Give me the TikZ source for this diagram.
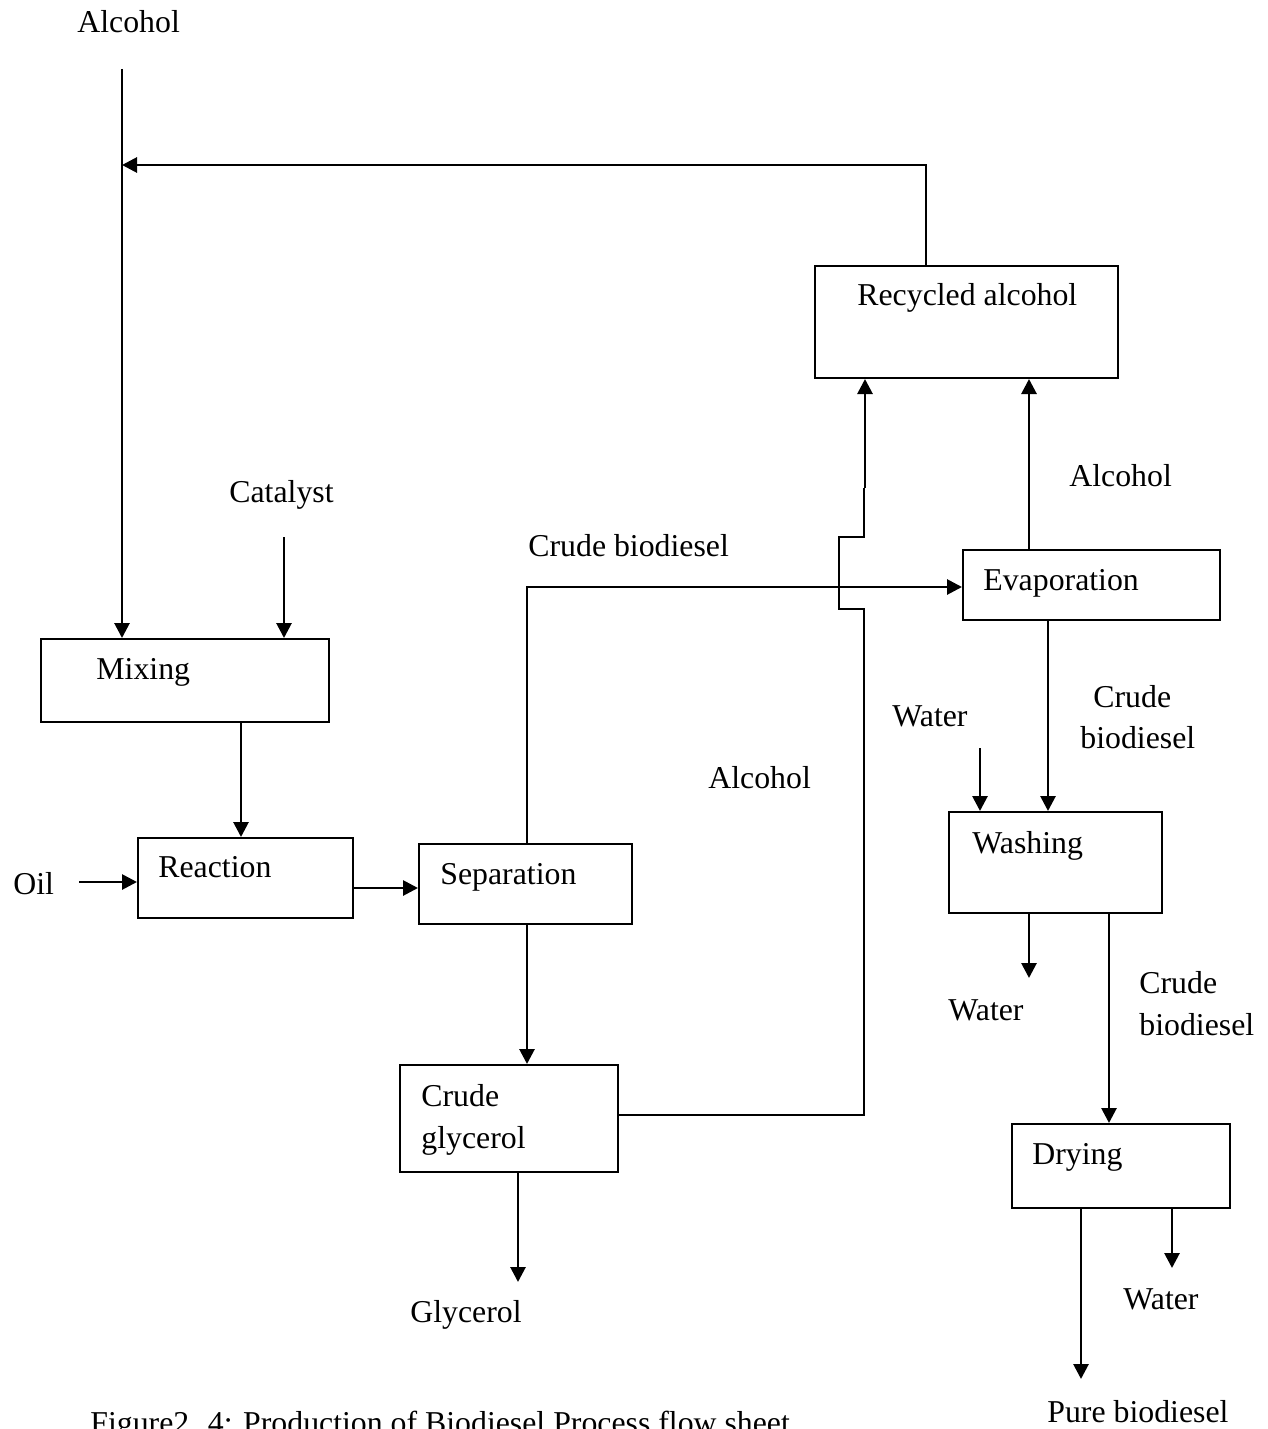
\documentclass[tikz,border=0pt]{standalone}
\usepackage{fontspec}
\setmainfont{Liberation Serif}
\usetikzlibrary{arrows.meta,positioning}

\tikzset{
  unit/.style={draw, line width=1pt, inner sep=0pt},
  tag/.style={anchor=base west, inner sep=0pt, align=left,
    font=\fontsize{15.9}{21}\selectfont},
  flow/.style={line width=1.4pt},
  pipe/.style={line width=1pt},
  >={Triangle[length=7.5pt,width=7.5pt]}
}

\begin{document}
\begin{tikzpicture}[x=0.5pt,y=-0.5pt]
  \useasboundingbox (0,0) rectangle (1268,1429);
  \clip (0,0) rectangle (1268,1429);

  % process units
  \node[unit, minimum width=144pt,   minimum height=41.5pt] (mixing)      at (185,680.5)   {};
  \node[unit, minimum width=107.5pt, minimum height=40pt]   (reaction)    at (245.5,878)   {};
  \node[unit, minimum width=106.5pt, minimum height=40pt]   (separation)  at (525.5,884)   {};
  \node[unit, minimum width=109pt,   minimum height=53.5pt] (glycerol)    at (509,1118.5)  {};
  \node[unit, minimum width=151.5pt, minimum height=56pt]   (recycled)    at (966.5,322)   {};
  \node[unit, minimum width=128.5pt, minimum height=35pt]   (evaporation) at (1091.5,585)  {};
  \node[unit, minimum width=106.5pt, minimum height=50.5pt] (washing)     at (1055.5,862.5) {};
  \node[unit, minimum width=109pt,   minimum height=42pt]   (drying)      at (1121,1166)   {};

  % texts
  \node[tag] (mixing text)      at (96,679)    {Mixing};
  \node[tag] (reaction text)    at (158,877)   {Reaction};
  \node[tag] (separation text)  at (440,884)   {Separation};
  \node[tag] (glycerol text)    at (421,1148)  {Crude\\glycerol};
  \node[tag] (recycled text)    at (857,305)   {Recycled alcohol};
  \node[tag] (evaporation text) at (983,590)   {Evaporation};
  \node[tag] (washing text)     at (972,853)   {Washing};
  \node[tag] (drying text)      at (1032,1164) {Drying};

  \node[tag] (alcohol feed)     at (77,33)     {Alcohol};
  \node[tag] (catalyst)         at (229,502)   {Catalyst};
  \node[tag] (oil)              at (13,894)    {Oil};
  \node[tag] (crude top)        at (528,556)   {Crude biodiesel};
  \node[tag] (alcohol back)     at (708,788)   {Alcohol};
  \node[tag] (alcohol up)       at (1069,486)  {Alcohol};
  \node[tag] (water in)         at (892,726)   {Water};
  \node[tag] (crude washing)    at (1093,707)  {Crude};
  \node[tag] (crude washing b)  at (1080,748)  {biodiesel};
  \node[tag] (water washing)    at (948,1020)  {Water};
  \node[tag] (crude drying)     at (1139,1035) {Crude\\biodiesel};
  \node[tag] (glycerol out)     at (410,1322)  {Glycerol};
  \node[tag] (water drying)     at (1123,1309) {Water};
  \node[tag] (pure)             at (1047,1422) {Pure biodiesel};
  \node[tag] (caption)          at (90,1433)   {Figure2. 4: Production of Biodiesel Process flow sheet};

  % free ends
  \coordinate (alcohol in)  at (122,69);
  \coordinate (junction)    at (122,165);
  \coordinate (catalyst in) at (284,537);
  \coordinate (oil in)      at (79,882);
  \coordinate (bend)        at (865,488);
  \coordinate (water feed)  at (980,748);
  \coordinate (water out)   at (1029,978);
  \coordinate (water dry)   at (1172,1268);
  \coordinate (pure out)    at (1081,1379);
  \coordinate (glyc out)    at (518,1282);

  % streams
  \draw[flow,->] (alcohol in) -- (122,0 |- mixing.north);
  \draw[flow,->] (926,0 |- recycled.north) |- (junction);
  \draw[flow,->] (catalyst in) -- (284,0 |- mixing.north);
  \draw[flow,->] (241,0 |- mixing.south) -- (241,0 |- reaction.north);
  \draw[flow,->] (oil in) -- (oil in -| reaction.west);
  \draw[flow,->] (reaction.east |- 0,888) -- (separation.west |- 0,888);
  \draw[flow,->] (527,0 |- separation.north) |- (evaporation.west |- 0,587);
  \draw[flow,->] (527,0 |- separation.south) -- (527,0 |- glycerol.north);
  \draw[pipe] (glycerol.east |- 0,1115) -| (864,609) -- (839,609) -- (839,537) -- (864,537) -- (864,488);
  \draw[flow,->] (bend) -- (865,0 |- recycled.south);
  \draw[flow,->] (1029,0 |- evaporation.north) -- (1029,0 |- recycled.south);
  \draw[flow,->] (1048,0 |- evaporation.south) -- (1048,0 |- washing.north);
  \draw[flow,->] (water feed) -- (980,0 |- washing.north);
  \draw[flow,->] (1029,0 |- washing.south) -- (water out);
  \draw[flow,->] (1109,0 |- washing.south) -- (1109,0 |- drying.north);
  \draw[flow,->] (1172,0 |- drying.south) -- (water dry);
  \draw[flow,->] (1081,0 |- drying.south) -- (pure out);
  \draw[flow,->] (518,0 |- glycerol.south) -- (glyc out);
\end{tikzpicture}
\end{document}
